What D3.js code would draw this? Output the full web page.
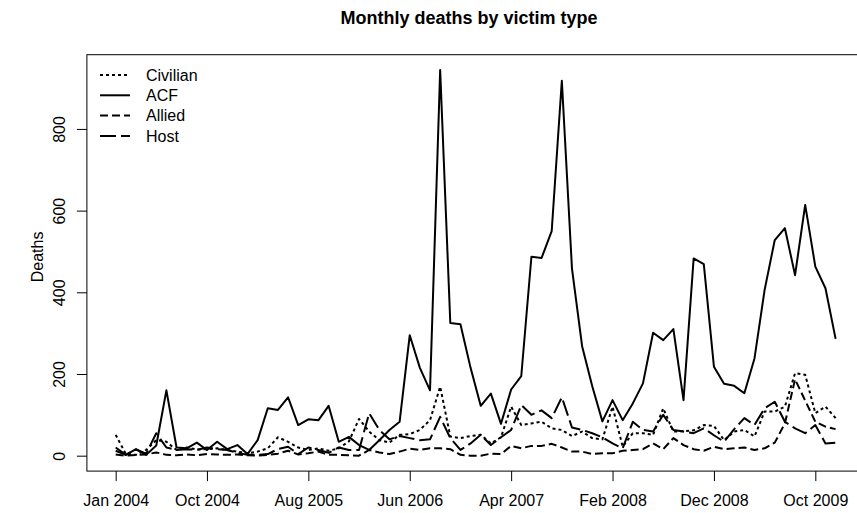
<!DOCTYPE html>
<html>
<head>
<meta charset="utf-8">
<script src="https://cdn.jsdelivr.net/npm/d3@7"></script>
<style>
  body { margin: 0; background: #fff; }
  text { font-family: "Liberation Sans", Arial, Helvetica, sans-serif; fill: #000; }
</style>
</head>
<body>
<div id="chart"></div>
<script>
// Monthly values, Jan 2004 .. Dec 2009
const civilian = [51, 4, 2, 14, 38, 34, 14, 20, 15, 16,
  18, 14, 10, 6, 10, 18, 45, 34, 20, 14,
  18, 12, 18, 35, 90, 59, 38, 32, 51, 53,
  63, 87, 169, 47, 43, 48, 51, 30, 45, 120,
  75, 79, 83, 67, 63, 48, 59, 43, 40, 120,
  22, 55, 55, 51, 116, 59, 60, 62, 75, 73,
  38, 59, 63, 47, 108, 108, 120, 202, 198, 104,
  120, 92];
const acf = [20, 2, 16, 2, 25, 160, 20, 18, 32, 14,
  34, 16, 26, 4, 38, 116, 112, 143, 75, 89,
  87, 122, 34, 46, 26, 14, 38, 63, 83, 295,
  215, 160, 944, 325, 322, 215, 122, 152, 78, 162,
  195, 487, 484, 550, 918, 458, 268, 170, 84, 136,
  87, 128, 177, 301, 283, 310, 136, 483, 469, 218,
  176, 171, 153, 238, 406, 528, 557, 442, 614, 463,
  410, 286];
const allied = [3, 0, 2, 3, 8, 2, 1, 3, 1, 4,
  3, 2, 3, 1, 0, 2, 5, 12, 3, 6,
  10, 2, 2, 1, 0, 14, 8, 4, 10, 17,
  14, 18, 18, 16, 2, 0, 0, 5, 4, 24,
  18, 24, 24, 29, 20, 10, 10, 4, 6, 6,
  12, 14, 16, 30, 16, 43, 26, 16, 12, 22,
  16, 18, 20, 14, 18, 32, 79, 187, 135, 83,
  71, 65];
const host = [12, 2, 15, 5, 55, 20, 14, 16, 14, 20,
  16, 14, 7, 2, 2, 4, 16, 22, 4, 20,
  14, 7, 20, 14, 14, 104, 63, 40, 48, 43,
  38, 40, 95, 43, 14, 30, 51, 26, 45, 63,
  124, 100, 111, 92, 143, 69, 63, 55, 45, 30,
  18, 83, 63, 59, 100, 63, 59, 55, 67, 50,
  34, 65, 92, 75, 116, 132, 83, 67, 55, 75,
  30, 32];

// x axis ticks (month index, 1 = Jan 2004)
const xTickIndex = [1, 10, 20, 30, 40, 50, 60, 70];
const xTickLabels = ['Jan 2004', 'Oct 2004', 'Aug 2005', 'Jun 2006',
  'Apr 2007', 'Feb 2008', 'Dec 2008', 'Oct 2009'];
const yTicks = [0, 200, 400, 600, 800];

const seriesNames = ['Civilian', 'ACF', 'Allied', 'Host'];
const seriesData = [civilian, acf, allied, host];
const dashes = ['3,3', null, '8,4', '16,5'];

const width = 857, height = 513;
const pLeft = 86.9, pRight = 864.4, pTop = 54.7, pBottom = 471.1;

const svg = d3.select('#chart').append('svg')
  .attr('width', width)
  .attr('height', height);

// R style 4% padding on both scales
const n = acf.length;
const xPad = (n - 1) * 0.04;
const x = d3.scaleLinear().domain([1 - xPad, n + xPad]).range([pLeft, pRight]);

const all = [].concat(civilian, acf, allied, host);
const yMin = d3.min(all), yMax = d3.max(all);
const yPad = (yMax - yMin) * 0.04;
const y = d3.scaleLinear().domain([yMin - yPad, yMax + yPad]).range([pBottom, pTop]);

// lines
const line = d3.line()
  .x((d, i) => x(i + 1))
  .y(d => y(d));

svg.selectAll('.series')
  .data(seriesData)
  .enter()
  .append('path')
  .attr('class', 'series')
  .attr('d', d => line(d))
  .attr('fill', 'none')
  .attr('stroke', '#000')
  .attr('stroke-width', 2)
  .attr('stroke-linejoin', 'round')
  .attr('stroke-dasharray', (d, i) => dashes[i]);

// box
svg.append('rect')
  .attr('x', pLeft)
  .attr('y', pTop)
  .attr('width', pRight - pLeft)
  .attr('height', pBottom - pTop)
  .attr('fill', 'none')
  .attr('stroke', '#000')
  .attr('stroke-width', 1);

// x axis
const xAxis = svg.append('g')
  .attr('transform', `translate(0, ${pBottom})`)
  .call(d3.axisBottom(x)
    .tickValues(xTickIndex)
    .tickFormat((d, i) => xTickLabels[i])
    .tickSize(10)
    .tickPadding(13.5));
xAxis.select('.domain').remove();
xAxis.selectAll('text').style('font-size', '16px');
xAxis.selectAll('line').attr('stroke', '#000');

// y axis
const yAxis = svg.append('g')
  .attr('transform', `translate(${pLeft}, 0)`)
  .call(d3.axisLeft(y).tickValues(yTicks).tickSize(10));
yAxis.select('.domain').remove();
yAxis.selectAll('line').attr('stroke', '#000');
yAxis.selectAll('text')
  .attr('x', 0)
  .attr('dy', null)
  .attr('text-anchor', 'middle')
  .attr('transform', `translate(${65 - pLeft}, 0) rotate(-90)`)
  .style('font-size', '16px');
svg.selectAll('g').attr('font-family', null);

// axis title
svg.append('text')
  .attr('transform', `translate(43, ${(pTop + pBottom) / 2 - 6}) rotate(-90)`)
  .attr('text-anchor', 'middle')
  .style('font-size', '16px')
  .text('Deaths');

// chart title
svg.append('text')
  .attr('x', 469)
  .attr('y', 24)
  .attr('text-anchor', 'middle')
  .style('font-size', '18px')
  .style('font-weight', 'bold')
  .text('Monthly deaths by victim type');

// legend
const legend = svg.append('g');
const rowY = i => 75 + i * 20.3;
legend.selectAll('line')
  .data(seriesNames)
  .enter()
  .append('line')
  .attr('x1', 100)
  .attr('x2', 130)
  .attr('y1', (d, i) => rowY(i))
  .attr('y2', (d, i) => rowY(i))
  .attr('stroke', '#000')
  .attr('stroke-width', 2)
  .attr('stroke-dasharray', (d, i) => dashes[i]);
legend.selectAll('text')
  .data(seriesNames)
  .enter()
  .append('text')
  .attr('x', 146)
  .attr('y', (d, i) => rowY(i) + 5.8)
  .style('font-size', '16px')
  .text(d => d);
</script>
</body>
</html>
